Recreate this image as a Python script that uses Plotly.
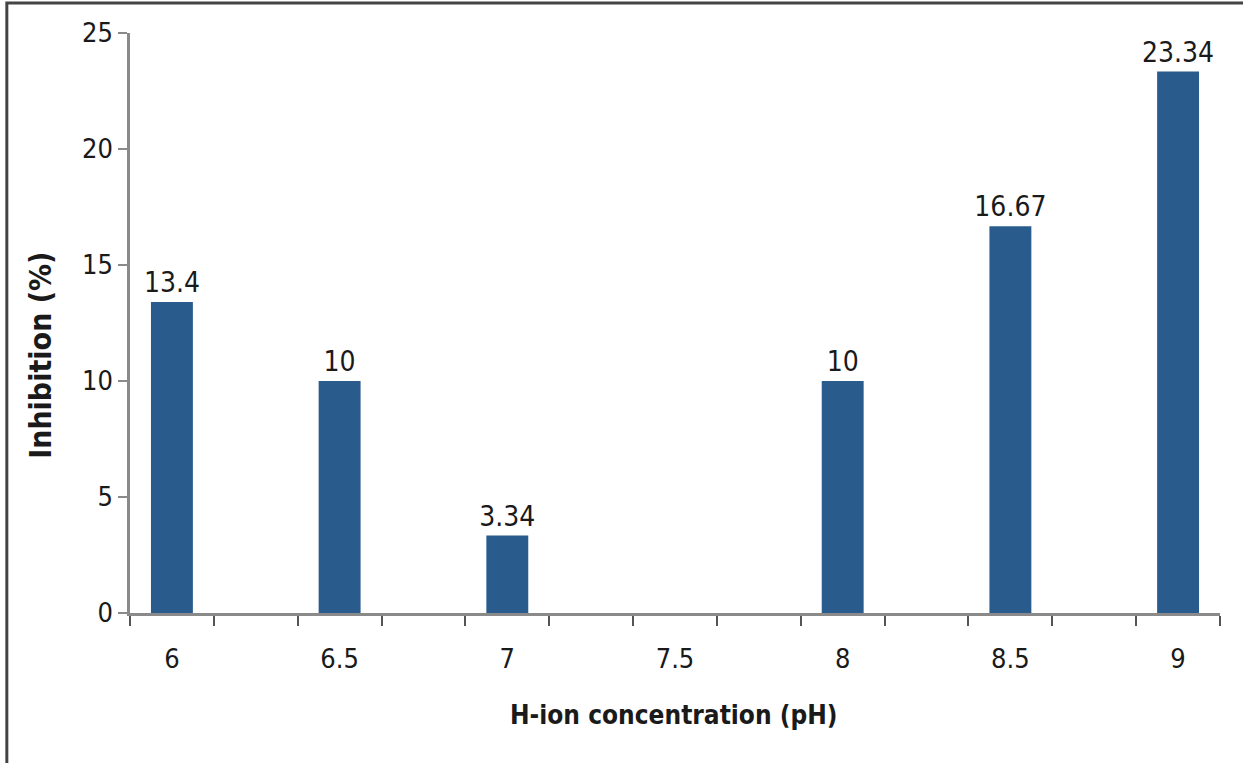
import plotly.graph_objects as go

ph_values = [6, 6.5, 7, 7.5, 8, 8.5, 9]
inhibition = [13.4, 10, 3.34, 0, 10, 16.67, 23.34]
x_tick_labels = ["6", "6.5", "7", "7.5", "8", "8.5", "9"]
y_tick_values = [0, 5, 10, 15, 20, 25]
x_title = "H-ion concentration (pH)"
y_title = "Inhibition (%)"

FONT = "DejaVu Sans Condensed, Liberation Sans Narrow, Open Sans, sans-serif"
AXIS_COLOR = "#8a8a8a"
BAR_COLOR = "#295b8d"

labels = [f"{v:g}" if v else "" for v in inhibition]

fig = go.Figure()
fig.add_trace(go.Bar(
    x=ph_values, y=inhibition, width=0.125,
    marker=dict(color=BAR_COLOR, line=dict(width=0)),
    text=labels, textposition="outside", cliponaxis=False,
    constraintext="none",
    textfont=dict(family=FONT, size=28, color="#1a1a1a"),
))

boundaries = [5.875 + 0.25 * i for i in range(14)]

fig.update_layout(
    width=1243, height=763,
    margin=dict(l=130, r=23, t=33, b=150),
    paper_bgcolor="white", plot_bgcolor="white",
    showlegend=False,
    font=dict(family=FONT, size=27, color="#1a1a1a"),
    xaxis=dict(
        range=[5.875, 9.125], tickvals=ph_values, ticktext=x_tick_labels,
        ticks="outside", ticklen=20, tickcolor="rgba(0,0,0,0)",
        showline=True, linecolor=AXIS_COLOR, linewidth=2.5,
        showgrid=False, zeroline=False,
        tickfont=dict(family=FONT, size=27, color="#1a1a1a"),
        minor=dict(tickvals=boundaries, ticks="outside", ticklen=10,
                   tickcolor="#555555", tickwidth=2, showgrid=False),
    ),
    yaxis=dict(
        range=[0, 25], tickvals=y_tick_values,
        ticks="outside", ticklen=9, tickcolor=AXIS_COLOR, tickwidth=2,
        showline=True, linecolor=AXIS_COLOR, linewidth=2.5,
        showgrid=False, zeroline=False,
        tickfont=dict(family=FONT, size=27, color="#1a1a1a"),
    ),
    annotations=[
        dict(text=f"<b>{x_title}</b>", xref="paper", yref="paper",
             x=0.499, y=-0.176, xanchor="center", yanchor="middle",
             showarrow=False, font=dict(family=FONT, size=26, color="#1a1a1a")),
        dict(text=f"<b>{y_title}</b>", xref="paper", yref="paper",
             x=-0.0817, y=0.445, xanchor="center", yanchor="middle", textangle=-90,
             showarrow=False, font=dict(family=FONT, size=30, color="#1a1a1a")),
    ],
    shapes=[
        dict(type="path", xref="paper", yref="paper",
             path="M -0.113,-0.27 L -0.113,1.0517 L 1.03,1.0517",
             line=dict(color="#444444", width=3)),
    ],
)

fig.write_html("out.html", config={"displayModeBar": False},
               post_script="document.body.style.margin='0';")
